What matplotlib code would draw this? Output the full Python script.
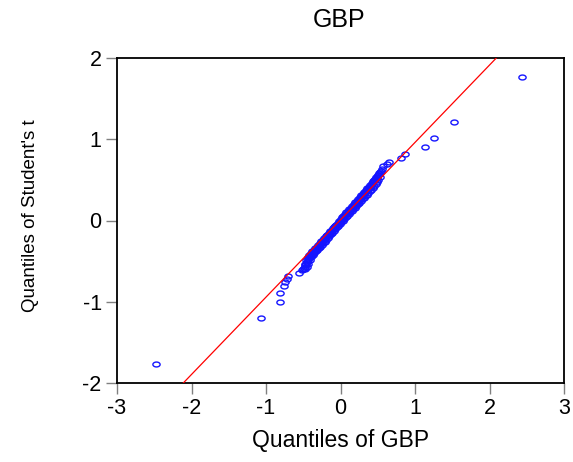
import matplotlib
matplotlib.use("Agg")
import matplotlib.pyplot as plt
from matplotlib.path import Path
import numpy as np

plt.rcParams['font.family'] = ['Liberation Sans', 'DejaVu Sans']

# Quantiles of GBP (x) and quantiles of Student's t (y)
gbp_q = [-2.48, -1.07, -0.81, -0.81, -0.755, -0.74, -0.72, -0.70, -0.56, -0.52,
         -0.50, -0.49, -0.48, -0.47, -0.46, -0.45, -0.44, -0.43, -0.42, -0.41,
         -0.40, -0.385, -0.37, -0.355, -0.34, -0.325, -0.31, -0.295, -0.28, -0.265,
         -0.25, -0.235, -0.22, -0.205, -0.19, -0.175, -0.16, -0.145, -0.13, -0.115,
         -0.10, -0.085, -0.07, -0.055, -0.04, -0.025, -0.01, 0.005, 0.02, 0.035,
         0.05, 0.065, 0.08, 0.095, 0.11, 0.125, 0.14, 0.155, 0.17, 0.185,
         0.20, 0.215, 0.23, 0.245, 0.26, 0.275, 0.29, 0.305, 0.32, 0.335,
         0.35, 0.365, 0.38, 0.395, 0.41, 0.425, 0.44, 0.455, 0.47, 0.485,
         0.50, 0.515, 0.53, 0.545, 0.56,
         0.57, 0.62, 0.645, 0.81, 0.87, 1.13, 1.26, 1.53, 2.44]
t_q = [-1.76, -1.20, -1.00, -0.89, -0.81, -0.76, -0.72, -0.68, -0.65, -0.615,
       -0.60, -0.585, -0.57, -0.55, -0.53, -0.51, -0.49, -0.47, -0.455, -0.44,
       -0.43, -0.41, -0.395, -0.375, -0.36, -0.345, -0.33, -0.31, -0.295, -0.28,
       -0.265, -0.245, -0.23, -0.215, -0.20, -0.18, -0.165, -0.15, -0.135, -0.12,
       -0.10, -0.085, -0.07, -0.055, -0.04, -0.025, -0.01, 0.005, 0.02, 0.035,
       0.05, 0.065, 0.08, 0.095, 0.11, 0.125, 0.14, 0.155, 0.17, 0.19,
       0.205, 0.22, 0.235, 0.25, 0.27, 0.285, 0.30, 0.32, 0.335, 0.35,
       0.37, 0.385, 0.40, 0.415, 0.43, 0.45, 0.475, 0.495, 0.515, 0.535,
       0.555, 0.575, 0.595, 0.615, 0.635,
       0.665, 0.70, 0.725, 0.77, 0.82, 0.90, 1.01, 1.21, 1.77]

# further tracks of the dense central band
gbp_q_band = [-0.47, -0.45, -0.43, -0.41, -0.39, -0.37, -0.35, -0.33, -0.31, -0.29,
              -0.27, -0.25, -0.23, -0.21, -0.19, -0.17, -0.15, -0.13, -0.11, -0.09,
              -0.07, -0.05, -0.03, -0.01, 0.01, 0.03, 0.05, 0.07, 0.09, 0.11,
              0.13, 0.15, 0.17, 0.19, 0.21, 0.23, 0.25, 0.27, 0.29, 0.31,
              0.33, 0.35, 0.37, 0.39, 0.41, 0.43, 0.45, 0.47, 0.49, 0.51, 0.53]
t_q_band = [-0.60, -0.57, -0.53, -0.49, -0.455, -0.43, -0.40, -0.38, -0.36, -0.34,
            -0.32, -0.30, -0.28, -0.26, -0.24, -0.21, -0.19, -0.17, -0.15, -0.125,
            -0.10, -0.085, -0.065, -0.04, -0.02, 0.00, 0.02, 0.04, 0.06, 0.08,
            0.10, 0.12, 0.14, 0.16, 0.18, 0.20, 0.22, 0.24, 0.26, 0.28,
            0.30, 0.32, 0.34, 0.36, 0.38, 0.40, 0.42, 0.45, 0.47, 0.50, 0.53]
gbp_q_band2 = [-0.48, -0.46, -0.44, -0.42, -0.40, -0.38, -0.36, -0.34, -0.32, -0.30,
               -0.28, -0.26, -0.24, -0.22, -0.20, -0.18, -0.16, -0.14, -0.12, -0.10,
               -0.08, -0.06, -0.04, -0.02, 0.00, 0.02, 0.04, 0.06, 0.08, 0.10,
               0.12, 0.14, 0.16, 0.18, 0.20, 0.22, 0.24, 0.26, 0.28, 0.30,
               0.32, 0.34, 0.36, 0.38, 0.40, 0.42, 0.44, 0.46, 0.48, 0.50, 0.52]
t_q_band2 = [-0.53, -0.49, -0.455, -0.43, -0.40, -0.38, -0.36, -0.34, -0.32, -0.30,
             -0.275, -0.255, -0.235, -0.215, -0.195, -0.175, -0.155, -0.135, -0.115, -0.09,
             -0.07, -0.05, -0.03, -0.01, 0.02, 0.04, 0.06, 0.08, 0.10, 0.12,
             0.14, 0.16, 0.18, 0.205, 0.225, 0.245, 0.265, 0.29, 0.31, 0.33,
             0.35, 0.37, 0.395, 0.415, 0.44, 0.465, 0.49, 0.515, 0.54, 0.565, 0.59]

line_slope = 0.952
line_intercept = 0.009

x_ticks = [-3, -2, -1, 0, 1, 2, 3]
y_ticks = [-2, -1, 0, 1, 2]

fig = plt.figure(figsize=(5.73, 4.62), dpi=100)
ax = fig.add_axes([117/573, 1 - 383/462, (564 - 117)/573, (383 - 58)/462])

theta = np.linspace(0, 2*np.pi, 41)
ell = Path(np.column_stack([np.cos(theta), 0.68*np.sin(theta)]), closed=True)

style = dict(linestyle='none', marker=ell, markersize=5.2,
             mfc='none', mec='#1414ff', mew=1.0, zorder=2)
ax.plot(gbp_q, t_q, **style)
ax.plot(gbp_q_band, t_q_band, **style)
ax.plot(gbp_q_band2, t_q_band2, **style)
ax.axline((0, line_intercept), slope=line_slope, color='#ff0000', lw=0.9, zorder=3)

ax.set_xlim(-3, 3)
ax.set_ylim(-2, 2)
ax.set_xticks(x_ticks)
ax.set_yticks(y_ticks)
ax.set_xticklabels([str(v) for v in x_ticks])
ax.set_yticklabels([str(v) for v in y_ticks])
ax.tick_params(direction='out', length=8, width=1, color='#808080',
               labelsize=15.5, pad=3, top=False, right=False)
for s in ax.spines.values():
    s.set_linewidth(1.3)
    s.set_color('black')

fig.text(339/573, 1 - 20/462, 'GBP', ha='center', va='center', fontsize=18)
fig.text(341/573, 1 - 440/462, 'Quantiles of GBP', ha='center', va='center', fontsize=16.5)
fig.text(31/573, 1 - 216/462, "Quantiles of Student's t", ha='center', va='center',
         rotation=90, fontsize=13.5)

fig.savefig('out.png', dpi=100)
